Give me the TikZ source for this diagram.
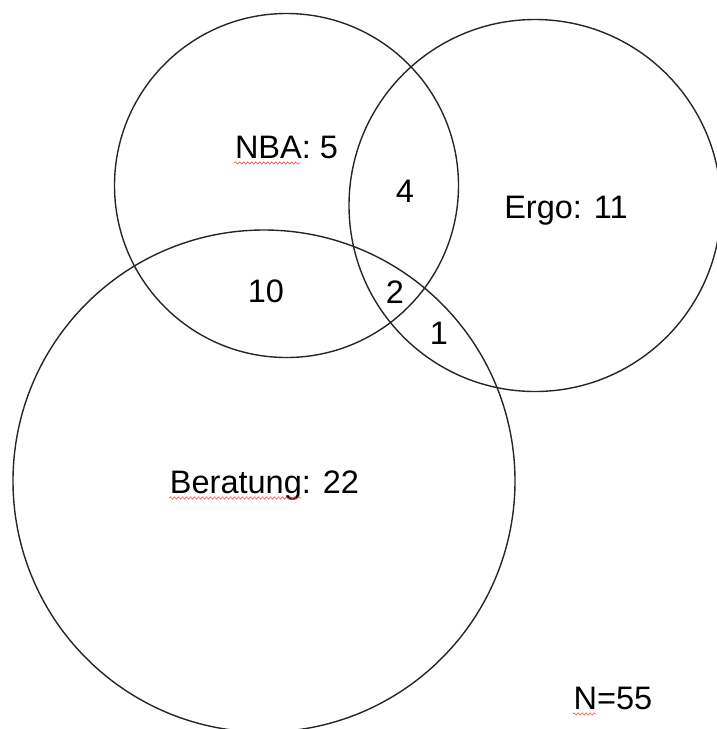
\documentclass[tikz,border=0pt]{standalone}
\usepackage{fontspec}
\setmainfont{Liberation Sans}
\usetikzlibrary{decorations.pathmorphing}

\begin{document}
\begin{tikzpicture}[x=1pt, y=-1pt, line width=1.4pt,
    lbl/.style={inner sep=0pt, anchor=base, font=\fontsize{32.5}{39}\selectfont},
    spellmark/.style={red!70, line width=0.6pt, decorate,
        decoration={snake, segment length=4pt, amplitude=1.1pt}}]
    \useasboundingbox (0, 0) rectangle (717, 729);
    \clip (0, 0) rectangle (717, 729);

    \coordinate (cnba) at (286.5, 185.5);
    \coordinate (cergo) at (535, 205.5);
    \coordinate (cber) at (264, 481);

    \draw[black!85] (cnba) circle (172);
    \draw[black!85] (cergo) circle (186);
    \draw[black!85] (cber) circle (251);

    \node[lbl] (nba) at (286.5, 158) {NBA: 5};
    \node[lbl] (ergo) at (566, 218) {Ergo: 11};
    \node[lbl] (ber) at (264.5, 493) {Beratung: 22};
    \node[lbl] (nbaergo) at (405, 202) {4};
    \node[lbl] (nbaber) at (266, 302) {10};
    \node[lbl] (all) at (395, 303) {2};
    \node[lbl] (ergober) at (439, 344) {1};
    \node[lbl] (total) at (613, 709) {N=55};

    \draw[spellmark] ([yshift=-5pt]nba.base west) -- ++(66, 0);
    \draw[spellmark] ([yshift=-5pt]ber.base west) -- ++(132, 0);
    \draw[spellmark] ([yshift=-5pt]total.base west) -- ++(23, 0);
\end{tikzpicture}
\end{document}
